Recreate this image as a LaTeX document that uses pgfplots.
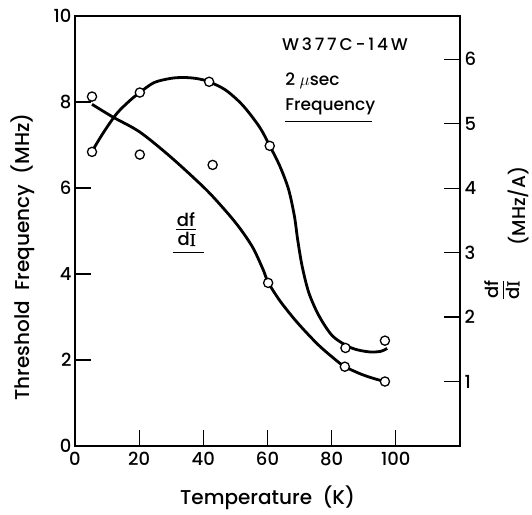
\documentclass[border=0pt]{standalone}
\usepackage{pgfplots}
\pgfplotsset{compat=1.18}
\usepackage{fontspec}
\setmainfont{Poppins}[UprightFont=*-Medium]
\newfontfamily\serifI{Liberation Serif}[FakeBold=1.5]
\begin{document}
\begin{tikzpicture}
\pgfplotsset{
  common/.style={
    width=385pt, height=430pt, scale only axis,
    xmin=0, xmax=120,
    tick align=inside,
    major tick length=16pt,
    axis line style={line width=2pt},
    every tick/.style={line width=1.2pt, black},
    tick label style={font=\fontsize{18}{20}\selectfont},
    /pgf/number format/assume math mode=true,
    clip=false,
  },
  curve/.style={black, line width=2.8pt, smooth, no markers},
  pts/.style={only marks, mark=*, mark size=4.6pt, mark options={fill=white, draw=black, line width=1.3pt}},
}
\begin{axis}[common,
  ymin=0, ymax=10,
  xtick={0,20,40,60,80,100}, ytick={0,2,4,6,8,10},
  xtick pos=bottom, ytick pos=left,
  xticklabel style={yshift=-3pt},
  yticklabel style={xshift=0pt},
]
% Frequency curve (left axis)
\addplot[curve] coordinates {
(5.3,6.85) (8.7,7.27) (13.0,7.73) (17.2,8.04) (20.2,8.22) (24.6,8.45)
(29.9,8.55) (34.2,8.57) (38.4,8.54) (41.8,8.47) (46.9,8.28) (52.2,7.93)
(57.5,7.42) (60.7,6.98) (63.9,6.50) (66.6,5.96) (68.4,5.34) (69.4,4.80)
(70.8,4.18) (72.9,3.56) (76.1,3.02) (80.4,2.55) (86.2,2.28) (91.5,2.19)
(95.2,2.20) (97.3,2.27)
};
\addplot[pts] coordinates {
(5.3,6.84) (20.2,8.22) (41.8,8.47) (60.7,6.98) (84.3,2.28) (96.6,2.45)
};
\node[anchor=west, font=\fontsize{17}{19}\selectfont, inner sep=0pt] at (axis cs:64.5,9.34) {W\,3\,7\,7\,C\,-\,1\,4\,W};
\node[anchor=west, font=\fontsize{17}{19}\selectfont, inner sep=0pt] at (axis cs:65.5,8.49) {2 $\mu$sec};
\node[anchor=west, font=\fontsize{17}{19}\selectfont, inner sep=0pt] at (axis cs:65.5,7.89) {Frequency};
\draw[line width=1.2pt] (axis cs:65.5,7.55) -- (axis cs:92.5,7.55);
\node[anchor=south, font=\fontsize{18}{20}\selectfont, inner sep=1pt] at (axis cs:34.6,5.08) {df};
\draw[line width=1.2pt] (axis cs:31.5,5.04) -- (axis cs:37.8,5.04);
\node[anchor=north, font=\fontsize{18}{20}\selectfont, inner sep=1pt] at (axis cs:34.8,4.99) {d{\serifI I}};
\draw[line width=1.2pt] (axis cs:30.4,4.50) -- (axis cs:40.1,4.50);
\node[rotate=90, font=\fontsize{20}{22}\selectfont] at (rel axis cs:-0.135,0.44) {Threshold\ \ Frequency\ \ (MHz)};
\node[font=\fontsize{20}{22}\selectfont] at (rel axis cs:0.5,-0.121) {Temperature\ \ (K)};
\end{axis}
\begin{axis}[common,
  ymin=0, ymax=6.67,
  xtick=\empty, ytick={1,2,3,4,5,6},
  ytick pos=right, yticklabel pos=right,
  yticklabel style={xshift=1pt},
]
% df/dI curve (right axis)
\addplot[curve] coordinates {
(5.3,5.30) (11.9,5.10) (20.2,4.87) (29.9,4.48) (40.6,3.99) (46.9,3.65)
(51.2,3.39) (55.4,3.08) (58.6,2.74) (60.2,2.54) (63.9,2.25) (69.2,1.92)
(75.6,1.58) (80.9,1.35) (84.1,1.23) (89.4,1.11) (93.6,1.04) (96.6,1.00)
};
\addplot[pts] coordinates {
(5.3,5.42) (20.2,4.52) (42.9,4.36) (60.2,2.53) (84.1,1.23) (96.6,1.00)
};
\node[rotate=90, font=\fontsize{18.5}{20}\selectfont] at (rel axis cs:1.152,0.558) {(MHz/A)};
\node[rotate=90, font=\fontsize{18}{20}\selectfont, inner sep=0pt] at (rel axis cs:1.117,0.363)
  {\begin{tabular}{@{}c@{}}df\\[-2pt]\hline\rule{0pt}{16pt}d{\serifI I}\end{tabular}};
\end{axis}
\pgfresetboundingbox
\useasboundingbox (-75pt,-68pt) rectangle (457pt,446pt);
\end{tikzpicture}
\end{document}
